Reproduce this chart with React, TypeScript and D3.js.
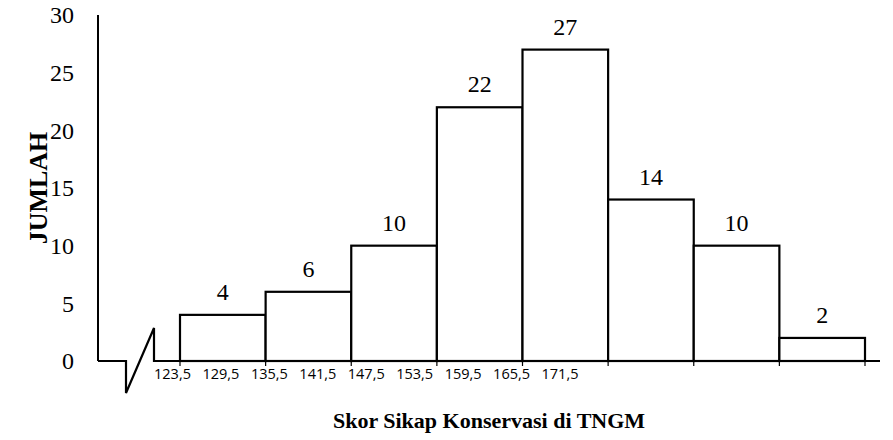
import * as d3 from "d3";
import React, { useEffect } from "react";

const counts = [4, 6, 10, 22, 27, 14, 10, 2];
const boundaryLabels = ["123,5", "129,5", "135,5", "141,5", "147,5", "153,5", "159,5", "165,5", "171,5"];
const yTicks = [0, 5, 10, 15, 20, 25, 30];
const xTitle = "Skor Sikap Konservasi di TNGM";
const yTitle = "JUMLAH";

const width = 893;
const height = 440;
const serif = "'Liberation Serif', 'Times New Roman', serif";

const App = () => {
  useEffect(() => {
    document.body.style.margin = "0";
  }, []);

  const axisX = 98;
  const x = d3.scaleLinear().domain([0, counts.length]).range([180, 865]);
  const y = d3.scaleLinear().domain([0, 30]).range([361, 15]);
  const labelX = d3.scalePoint<string>().domain(boundaryLabels).range([172.5, 560]);

  // broken x axis (zig-zag near the origin)
  const axisPath = d3.line()([
    [axisX, y(0)],
    [126, y(0)],
    [126, y(0) + 32],
    [154, y(0) - 33],
    [154, y(0)],
    [880, y(0)],
  ]);

  const edges = d3.range(counts.length + 1);

  return (
    <svg width={width} height={height} style={{ display: "block", background: "#fff" }}>
      {/* bars */}
      {counts.map((c, i) => (
        <rect
          key={i}
          x={x(i)}
          y={y(c)}
          width={x(i + 1) - x(i)}
          height={y(0) - y(c)}
          fill="#fff"
          stroke="#000"
          strokeWidth={2.2}
        />
      ))}
      {edges.map((e) => (
        <line key={e} x1={x(e)} x2={x(e)} y1={y(0)} y2={y(0) + 5} stroke="#000" strokeWidth={1.2} />
      ))}

      {/* axes */}
      <line x1={axisX} x2={axisX} y1={y(30)} y2={y(0)} stroke="#000" strokeWidth={2} />
      <path d={axisPath || ""} fill="none" stroke="#000" strokeWidth={2.2} strokeLinejoin="miter" />

      {yTicks.map((t) => (
        <text
          key={t}
          x={74}
          y={y(t)}
          dy="0.35em"
          textAnchor="end"
          fontFamily={serif}
          fontSize={24}
          fill="#000"
        >
          {t}
        </text>
      ))}

      {boundaryLabels.map((l) => (
        <text
          key={l}
          x={labelX(l)}
          y={379}
          textAnchor="middle"
          fontFamily="'Open Sans', 'Liberation Sans', sans-serif"
          fontSize={14.5}
          fill="#000"
        >
          {l}
        </text>
      ))}

      {/* value labels */}
      {counts.map((c, i) => (
        <text
          key={i}
          x={(x(i) + x(i + 1)) / 2}
          y={y(c) - 15}
          textAnchor="middle"
          fontFamily={serif}
          fontSize={24}
          fill="#000"
        >
          {c}
        </text>
      ))}

      {/* titles */}
      <text
        x={489}
        y={428}
        textAnchor="middle"
        fontFamily={serif}
        fontWeight="bold"
        fontSize={22}
        fill="#000"
      >
        {xTitle}
      </text>
      <text
        transform={`translate(47, ${(y(0) + y(30)) / 2}) rotate(-90)`}
        textAnchor="middle"
        fontFamily={serif}
        fontWeight="bold"
        fontSize={26}
        fill="#000"
      >
        {yTitle}
      </text>
    </svg>
  );
};

export default App;
